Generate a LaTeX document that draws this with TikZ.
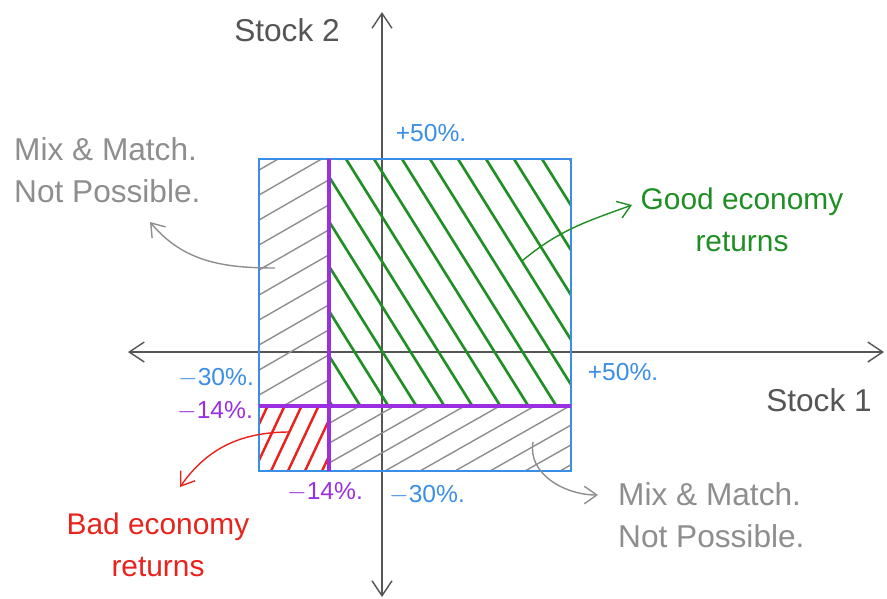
\documentclass[tikz,border=0pt]{standalone}
\usepackage{fontspec}
\setmainfont{Liberation Sans}
\usetikzlibrary{arrows.meta,positioning,calc}
\definecolor{RetBlue}{HTML}{3A8EE6}
\definecolor{RetPurple}{HTML}{9A2EE0}
\definecolor{RetGreen}{HTML}{1F8F24}
\definecolor{RetRed}{HTML}{E8231E}
\definecolor{RetGray}{HTML}{8E8E8E}
\definecolor{AxisGray}{HTML}{555555}

\begin{document}
\begin{tikzpicture}[x=0.02cm,y=-0.02cm,
    axis/.style={AxisGray,thick,{Straight Barb[length=3mm,width=4mm]}-{Straight Barb[length=3mm,width=4mm]}},
    hand/.style={font=\fontsize{18}{24}\selectfont,align=left},
    pct/.style={font=\fontsize{14}{16}\selectfont},
    note/.style={-{Straight Barb[length=2.5mm,width=3.5mm]},thick},
    hatch/.style={line width=0.8pt}
  ]
    \useasboundingbox (0,0) rectangle (887,599);
    % axes
    \coordinate (xl) at (128,352);
    \coordinate (xr) at (884,352);
    \coordinate (yt) at (382,12);
    \coordinate (yb) at (382,597);
    \draw[axis] (xl) -- (xr);
    \draw[axis] (yb) -- (yt);

    % hatched regions
    \begin{scope}
      \clip (329,159) rectangle (571,406);
      \foreach \s in {150,178,...,600}
        \draw[RetGreen,line width=1.5pt] (\s,159) -- ++(160,256);
    \end{scope}
    \begin{scope}
      \clip (259,159) rectangle (329,406);
      \foreach \s in {170,195,...,460}
        \draw[RetGray,hatch] (259,\s) -- ++(80,-46);
    \end{scope}
    \begin{scope}
      \clip (329,406) rectangle (571,471);
      \foreach \s in {210,245,...,580}
        \draw[RetGray,hatch] (\s,471) -- ++(120,-68);
    \end{scope}
    \begin{scope}
      \clip (259,406) rectangle (329,471);
      \foreach \s in {220,237,...,330}
        \draw[RetRed,line width=1.4pt] (\s,471) -- ++(32,-68);
    \end{scope}

    % bounds
    \draw[RetBlue,thick] (259,159) rectangle (571,471);
    \draw[RetPurple,line width=1.8pt] (329,159) -- (329,471);
    \draw[RetPurple,line width=1.8pt] (259,406) -- (571,406);

    % percent labels
    \node[pct,RetBlue] (ptop) at (431,133) {+50\%.};
    \node[pct,RetBlue] (pleft) at (216,378) {$-$30\%.};
    \node[pct,RetBlue] (pright) at (623,372) {+50\%.};
    \node[pct,RetBlue] (pbot) at (427,495) {$-$30\%.};
    \node[pct,RetPurple] (qleft) at (215,411) {$-$14\%.};
    \node[pct,RetPurple] (qbot) at (325,492) {$-$14\%.};

    % axis titles
    \node[hand,AxisGray] (s2) at (287,30) {Stock 2};
    \node[hand,AxisGray] (s1) at (819,400) {Stock 1};

    % notes
    \node[hand,RetGray,anchor=west] (mixl) at (8,170) {Mix \& Match.\\Not Possible.};
    \node[hand,RetGray,anchor=west] (mixr) at (612,515) {Mix \& Match.\\Not Possible.};
    \node[hand,RetGreen,align=center,font=\fontsize{17}{24}\selectfont] (good) at (742,220) {Good economy\\returns};
    \node[hand,RetRed,align=center,font=\fontsize{17}{24}\selectfont] (bad) at (158,545) {Bad economy\\returns};

    \coordinate (mixltail) at (275,268);
    \coordinate (mixlhead) at (150,222);
    \coordinate (mixrtail) at (533,442);
    \coordinate (mixrhead) at (598,495);
    \coordinate (goodtail) at (522,261);
    \coordinate (goodhead) at (632,205);
    \coordinate (badtail) at (290,432);
    \coordinate (badhead) at (180,487);
    \draw[note,RetGray] (mixltail) to[out=180,in=-50] (mixlhead);
    \draw[note,RetGray] (mixrtail) to[out=-100,in=180] (mixrhead);
    \draw[note,RetGreen] (goodtail) to[out=40,in=200] (goodhead);
    \draw[note,RetRed] (badtail) to[out=180,in=55] (badhead);
  \end{tikzpicture}
\end{document}
